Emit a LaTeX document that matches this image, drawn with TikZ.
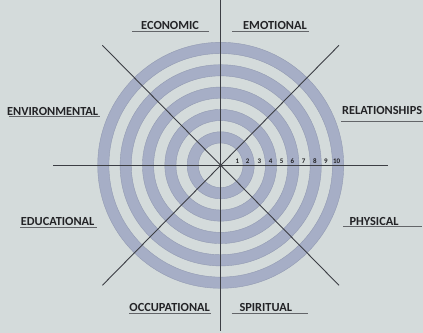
\documentclass[tikz,border=0pt]{standalone}
\usepackage{fontspec}
\setmainfont{Carlito}
\definecolor{bgc}{RGB}{212,219,219}
\definecolor{band}{RGB}{166,174,198}
\definecolor{bandedge}{RGB}{146,154,178}
\definecolor{linec}{RGB}{60,62,68}
\definecolor{txt}{RGB}{35,35,38}
\begin{document}
\begin{tikzpicture}[x=1bp,y=-1bp,
  lbl/.style={anchor=base west,inner sep=0pt,text=txt,font=\fontsize{12.4}{14}\selectfont\bfseries},
  num/.style={anchor=base,inner sep=0pt,text=txt,font=\fontsize{7}{8}\selectfont\bfseries},
  uline/.style={draw=linec!80,line width=0.8bp},
  axis/.style={draw=linec,line width=0.9bp}]
\fill[bgc] (0,0) rectangle (423,333);
\useasboundingbox (0,0) rectangle (423,333);
\coordinate (C) at (220.7,165.3);
\def\u{11.18}
\foreach \k in {2,4,6,8,10}{
  \fill[band,even odd rule] (C) circle[radius=\k*\u] (C) circle[radius=\k*\u+\u];
  \draw[bandedge,line width=0.4bp] (C) circle[radius=\k*\u] (C) circle[radius=\k*\u+\u];
}
% axes
\coordinate (hl) at (53.3,165.3);
\coordinate (hr) at (387.7,165.3);
\coordinate (vt) at (220.7,0);
\coordinate (vb) at (220.7,331);
\coordinate (nw) at (102.4,45.3);
\coordinate (se) at (339.0,285.3);
\coordinate (ne) at (339.0,45.3);
\coordinate (sw) at (102.4,285.3);
\draw[axis] (hl) -- (hr);
\draw[axis] (vt) -- (vb);
\draw[axis] (nw) -- (se);
\draw[axis] (ne) -- (sw);
\fill[linec] (C) circle[radius=1.6bp];
% numbers
\foreach \n/\x in {1/237.3,2/247.7,3/259.3,4/270.7,5/281.7,6/292.3,7/303.7,8/315,9/326,10/336.7}{
  \node[num] (n\n) at (\x,163) {\n};
}
% labels
\node[lbl] (economic) at (141,29.3) {ECONOMIC};
\draw[uline] (132,31) -- (209,31);
\node[lbl] (emotional) at (243,29.3) {EMOTIONAL};
\draw[uline] (232,31) -- (309,31);
\node[lbl] (environmental) at (7,115) {ENVIRONMENTAL};
\draw[uline] (9,116.8) -- (100,116.8);
\node[lbl] (relationships) at (342,114) {RELATIONSHIPS};
\draw[uline] (341,121) -- (423,121);
\node[lbl] (educational) at (20.7,225.7) {EDUCATIONAL};
\draw[uline] (20,227) -- (97,227);
\node[lbl] (physical) at (349.3,225) {PHYSICAL};
\draw[uline] (343,226.5) -- (421.7,226.5);
\node[lbl] (occupational) at (129.3,311.7) {OCCUPATIONAL};
\draw[uline] (129,313) -- (211,313);
\node[lbl] (spiritual) at (239.3,311.7) {SPIRITUAL};
\draw[uline] (231.7,313) -- (308.3,313);
\end{tikzpicture}
\end{document}
